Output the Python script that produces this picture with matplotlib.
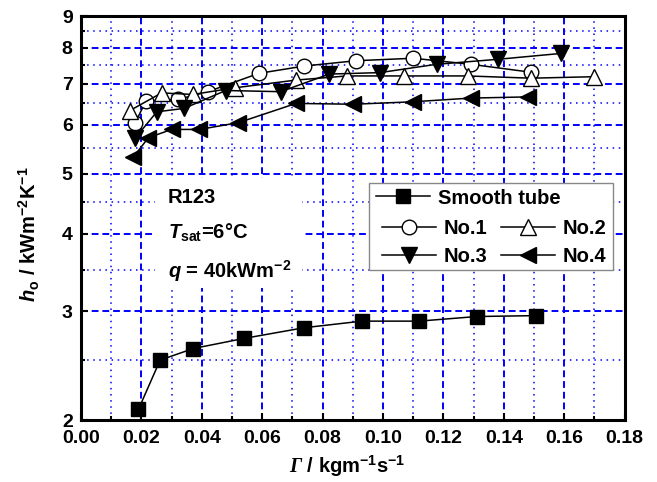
import matplotlib
matplotlib.use("Agg")
import matplotlib.pyplot as plt
from matplotlib.ticker import FixedLocator, FixedFormatter, NullFormatter, MultipleLocator, FormatStrFormatter
from matplotlib.patches import Rectangle

plt.rcParams['font.family'] = 'Liberation Sans'
plt.rcParams['font.weight'] = 'bold'
plt.rcParams['axes.labelweight'] = 'bold'
plt.rcParams['mathtext.fontset'] = 'custom'
plt.rcParams['mathtext.rm'] = 'Liberation Sans:bold'
plt.rcParams['mathtext.bf'] = 'Liberation Sans:bold'
plt.rcParams['mathtext.it'] = 'Liberation Sans:italic:bold'
plt.rcParams['mathtext.cal'] = 'Liberation Serif:italic'

# film flow rate Gamma (kg m-1 s-1) and heat transfer coefficient h_o (kW m-2 K-1)
smooth_x = [0.019, 0.0262, 0.0372, 0.054, 0.0739, 0.093, 0.1119, 0.131, 0.1508]
smooth_h = [2.08, 2.50, 2.61, 2.71, 2.82, 2.89, 2.89, 2.94, 2.95]

no1_x = [0.0179, 0.0215, 0.0322, 0.042, 0.0589, 0.0739, 0.0911, 0.110, 0.129, 0.149]
no1_h = [6.04, 6.56, 6.60, 6.79, 7.27, 7.47, 7.62, 7.69, 7.52, 7.30]

no2_x = [0.0162, 0.0267, 0.037, 0.051, 0.0712, 0.088, 0.107, 0.128, 0.149, 0.170]
no2_h = [6.33, 6.76, 6.72, 6.89, 7.09, 7.20, 7.20, 7.20, 7.14, 7.18]

no3_x = [0.0179, 0.0251, 0.0341, 0.0479, 0.0661, 0.0822, 0.099, 0.1178, 0.138, 0.159]
no3_h = [5.71, 6.30, 6.38, 6.82, 6.79, 7.25, 7.29, 7.52, 7.66, 7.83]

no4_x = [0.0173, 0.0223, 0.030, 0.0392, 0.0521, 0.0712, 0.0902, 0.110, 0.129, 0.148]
no4_h = [5.32, 5.72, 5.90, 5.90, 6.05, 6.50, 6.48, 6.54, 6.63, 6.66]

y_ticks = [2, 3, 4, 5, 6, 7, 8, 9]
y_minor = [2.5, 3.5, 4.5, 5.5, 6.5, 7.5, 8.5]

fig = plt.figure(figsize=(6.57, 4.82), dpi=100)
ax = fig.add_axes([0.1233, 0.1286, 0.8275, 0.8382])

line_kw = dict(color='k', lw=1.1, mec='k', mew=1.0, zorder=3)
l0, = ax.plot(smooth_x, smooth_h, marker='s', ms=9.5, mfc='k', **line_kw)
l1, = ax.plot(no1_x, no1_h, marker='o', ms=10.5, mfc='white', **line_kw)
l2, = ax.plot(no2_x, no2_h, marker='^', ms=12, mfc='white', **line_kw)
l3, = ax.plot(no3_x, no3_h, marker='v', ms=12, mfc='k', **line_kw)
l4, = ax.plot(no4_x, no4_h, marker='<', ms=12, mfc='k', **line_kw)

ax.set_yscale('log')
ax.set_xlim(0, 0.18)
ax.set_ylim(2, 9)
ax.yaxis.set_major_locator(FixedLocator(y_ticks))
ax.yaxis.set_major_formatter(FixedFormatter([str(v) for v in y_ticks]))
ax.yaxis.set_minor_locator(FixedLocator(y_minor))
ax.yaxis.set_minor_formatter(NullFormatter())
ax.xaxis.set_major_locator(MultipleLocator(0.02))
ax.xaxis.set_major_formatter(FormatStrFormatter('%.2f'))
ax.xaxis.set_minor_locator(MultipleLocator(0.01))

ax.set_axisbelow(True)
ax.grid(which='major', color='#0000ff', ls=(0, (3.5, 2)), lw=1.4)
ax.grid(which='minor', color='#0000ff', ls=(0, (1, 3)), lw=1.1)

for s in ax.spines.values():
    s.set_linewidth(2.2)
ax.tick_params(which='both', direction='in', labelsize=14)
ax.tick_params(which='major', length=5, width=1.5)
ax.tick_params(which='minor', length=3, width=1.5)
ax.tick_params(axis='x', pad=7)
ax.tick_params(axis='y', pad=6)

ax.set_xlabel(r'$\mathcal{\Gamma}$ / kgm$^{-1}$s$^{-1}$', fontsize=14.5)
ax.set_ylabel(r'$h_{\mathrm{o}}$ / kWm$^{-2}$K$^{-1}$', fontsize=14.5)
ax.xaxis.set_label_coords(0.49, -0.083)
ax.yaxis.set_label_coords(-0.072, 0.46)

# white block behind the condition notes hides the grid there
ax.add_patch(Rectangle((0.136, 0.327), 0.27, 0.272, transform=ax.transAxes,
                       facecolor='white', edgecolor='none', zorder=2))
ax.text(0.16, 0.538, 'R123', transform=ax.transAxes, fontsize=14.5)
ax.text(0.16, 0.450, r'$T_{\mathrm{sat}}$=6°C', transform=ax.transAxes, fontsize=14.5)
ax.text(0.16, 0.351, r'$q$ = 40kWm$^{-2}$', transform=ax.transAxes, fontsize=14.5)

# legend: frame drawn by hand, first row spans both columns
ax.add_patch(Rectangle((0.530, 0.371), 0.448, 0.216, transform=ax.transAxes,
                       facecolor='white', edgecolor='#888888', lw=1.0, zorder=5))
leg_kw = dict(frameon=False, fontsize=14.5, handlelength=2.68, handletextpad=0.4,
              borderpad=0, borderaxespad=0, numpoints=1)
leg1 = ax.legend([l0], ['Smooth tube'], loc='center left',
                 bbox_to_anchor=(0.5426, 0.5495), **leg_kw)
leg1.set_zorder(6)
ax.add_artist(leg1)
leg2 = ax.legend([l1, l3, l2, l4], ['No.1', 'No.3', 'No.2', 'No.4'], ncol=2,
                 loc='center left', bbox_to_anchor=(0.5536, 0.4394),
                 columnspacing=0.66, labelspacing=0.47, **leg_kw)
leg2.set_zorder(6)

fig.savefig('out.png', dpi=100)
